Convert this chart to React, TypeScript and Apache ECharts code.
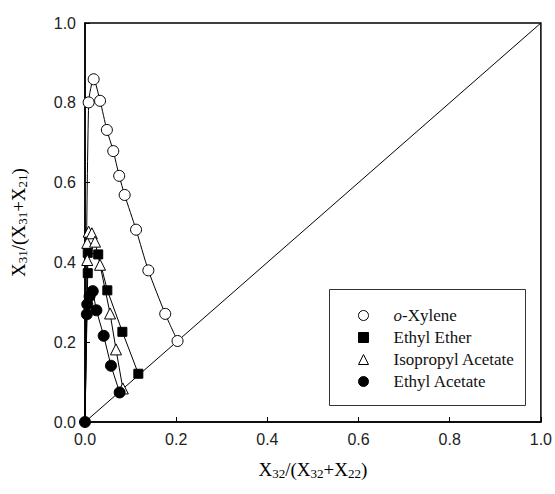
import React, { useEffect, useRef } from "react";
import * as echarts from "echarts";

const seriesNames = ["o-Xylene", "Ethyl Ether", "Isopropyl Acetate", "Ethyl Acetate"];

const xyleneX = [0, 0.008, 0.019, 0.033, 0.048, 0.062, 0.075, 0.087, 0.112, 0.139, 0.176, 0.203];
const xyleneY = [0, 0.801, 0.859, 0.805, 0.732, 0.679, 0.617, 0.569, 0.482, 0.38, 0.271, 0.203];

const etherX = [0, 0.006, 0.006, 0.029, 0.049, 0.082, 0.117];
const etherY = [0, 0.373, 0.424, 0.42, 0.33, 0.226, 0.121];

const ipaX = [0, 0.005, 0.005, 0.008, 0.015, 0.022, 0.033, 0.055, 0.068, 0.083];
const ipaY = [0, 0.406, 0.449, 0.477, 0.473, 0.452, 0.394, 0.272, 0.182, 0.084];

const eaX = [0, 0.004, 0.005, 0.01, 0.017, 0.025, 0.041, 0.057, 0.076];
const eaY = [0, 0.27, 0.295, 0.315, 0.328, 0.28, 0.216, 0.141, 0.074];

const diagX = [0, 1];
const diagY = [0, 1];

export default function App() {
  const ref = useRef<HTMLDivElement>(null);
  useEffect(() => {
    if (!ref.current) return;
    const chart = echarts.init(ref.current, undefined, { renderer: "svg" });
    const pts = (xs: number[], ys: number[], hideOrigin: boolean) =>
      xs.map((x, i) =>
        hideOrigin && i === 0 ? { value: [x, ys[i]], symbol: "none" } : { value: [x, ys[i]] }
      );
    const openStyle = { color: "#ffffff", borderColor: "#000000", borderWidth: 1 };
    const fillStyle = { color: "#000000", borderColor: "#000000", borderWidth: 1 };
    const lineStyle = { color: "#000000", width: 1 };
    const subRich = {
      sub: { fontSize: 13, fontFamily: "Liberation Serif", color: "#000", verticalAlign: "bottom", padding: [9, 0, 0, 0] },
    };
    const axisLabel = {
      margin: 9,
      fontFamily: "Liberation Sans",
      fontSize: 16,
      color: "#222",
      formatter: (v: number) => v.toFixed(1),
    };
    const option: any = {
      animation: false,
      backgroundColor: "#ffffff",
      grid: {
        left: 85,
        right: 14,
        top: 23,
        bottom: 72,
        show: true,
        borderColor: "#000",
        borderWidth: 1.5,
        backgroundColor: "transparent",
      },
      xAxis: {
        type: "value",
        min: 0,
        max: 1,
        interval: 0.2,
        name: "X{sub|32}/(X{sub|32}+X{sub|22})",
        nameLocation: "middle",
        nameGap: 36,
        nameTextStyle: { fontFamily: "Liberation Serif", fontSize: 19, color: "#000", rich: subRich },
        axisLine: { show: true, onZero: false, lineStyle: { color: "#000", width: 1.5 } },
        axisTick: { show: true, inside: true, length: 5, lineStyle: { color: "#000" } },
        axisLabel,
        splitLine: { show: false },
      },
      yAxis: {
        type: "value",
        min: 0,
        max: 1,
        interval: 0.2,
        name: "X{sub|31}/(X{sub|31}+X{sub|21})",
        nameLocation: "middle",
        nameGap: 56,
        nameRotate: 90,
        nameTextStyle: { fontFamily: "Liberation Serif", fontSize: 19, color: "#000", rich: subRich },
        axisLine: { show: true, onZero: false, lineStyle: { color: "#000", width: 1.5 } },
        axisTick: { show: true, inside: true, length: 5, lineStyle: { color: "#000" } },
        axisLabel,
        splitLine: { show: false },
      },
      legend: {
        orient: "vertical",
        left: 353,
        top: 302,
        itemGap: 5,
        itemWidth: 10,
        itemHeight: 10,
        textStyle: {
          fontFamily: "Liberation Serif",
          fontSize: 17,
          color: "#111",
          padding: [0, 0, 0, 20],
          rich: { i: { fontStyle: "italic", fontFamily: "Liberation Serif", fontSize: 17, color: "#111" } },
        },
        formatter: (name: string) => (name === "o-Xylene" ? "{i|o}-Xylene" : name),
        data: [
          { name: seriesNames[0], icon: "circle", itemStyle: openStyle },
          { name: seriesNames[1], icon: "rect", itemStyle: fillStyle },
          { name: seriesNames[2], icon: "triangle", itemStyle: openStyle },
          { name: seriesNames[3], icon: "circle", itemStyle: fillStyle },
        ],
      },
      graphic: [
        {
          type: "rect",
          left: 329,
          top: 289,
          shape: { width: 196, height: 116 },
          style: { fill: "transparent", stroke: "#333", lineWidth: 1 },
          z: 100,
        },
      ],
      series: [
        {
          type: "line",
          name: "diag",
          data: diagX.map((x, i) => [x, diagY[i]]),
          symbol: "none",
          lineStyle,
          silent: true,
        },
        {
          type: "line",
          name: seriesNames[0],
          data: pts(xyleneX, xyleneY, true),
          symbol: "circle",
          symbolSize: 11,
          smooth: 0.25,
          itemStyle: openStyle,
          lineStyle,
          z: 3,
        },
        {
          type: "line",
          name: seriesNames[1],
          data: pts(etherX, etherY, true),
          symbol: "rect",
          symbolSize: 9,
          itemStyle: fillStyle,
          lineStyle,
          z: 4,
        },
        {
          type: "line",
          name: seriesNames[2],
          data: pts(ipaX, ipaY, true),
          symbol: "triangle",
          symbolSize: 11,
          itemStyle: openStyle,
          lineStyle,
          z: 5,
        },
        {
          type: "line",
          name: seriesNames[3],
          data: pts(eaX, eaY, false),
          symbol: "circle",
          symbolSize: 11,
          itemStyle: fillStyle,
          lineStyle,
          z: 6,
        },
      ],
    };
    chart.setOption(option);
    return () => chart.dispose();
  }, []);
  return <div ref={ref} style={{ width: 555, height: 494, position: "absolute", left: 0, top: 0 }} />;
}
